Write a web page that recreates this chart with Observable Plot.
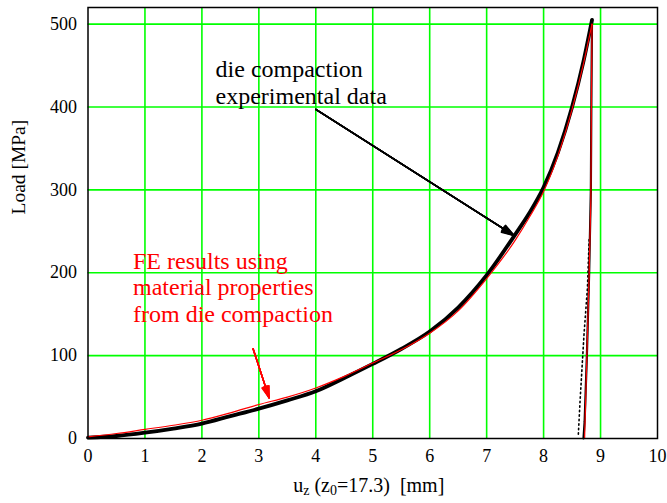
<!DOCTYPE html>
<html>
<head>
<meta charset="utf-8">
<script src="https://cdn.jsdelivr.net/npm/d3@7"></script>
<script src="https://cdn.jsdelivr.net/npm/@observablehq/plot@0.6"></script>
<style>
  html, body { margin: 0; padding: 0; background: #fff; }
  #chart { width: 667px; height: 503px; }
  #chart svg text { font-family: "Liberation Serif", "DejaVu Serif", serif !important; }
</style>
</head>
<body>
<div id="chart"></div>
<script>
// ---- data ----
const xTicks = [0, 1, 2, 3, 4, 5, 6, 7, 8, 9, 10];
const yTicks = [0, 100, 200, 300, 400, 500];
const gridX = [1, 2, 3, 4, 5, 6, 7, 8, 9];
const gridY = [100, 200, 300, 400, 500];

// experimental (die compaction) loading branch
const expLoadX = [0, 0.5, 1, 1.5, 2, 2.5, 3, 3.5, 4, 4.5, 5, 5.5, 6, 6.5, 7, 7.5, 7.75, 8, 8.25, 8.5, 8.7, 8.85];
const expLoadY = [1, 3, 7, 12, 18, 27, 36, 46, 57, 73, 90, 108, 129, 158, 197, 246, 272, 303, 345, 400, 455, 505];
// experimental unloading branch
const expUnloadX = [8.85, 8.84, 8.83, 8.80, 8.76, 8.72, 8.70];
const expUnloadY = [505, 420, 300, 200, 100, 20, 0];
// scattered trail of experimental unloading points
const expTrailX = [8.80, 8.77, 8.71, 8.64, 8.61];
const expTrailY = [240, 182, 126, 45, 5];

// FE results loading branch
const feLoadX = [0, 0.5, 1, 1.5, 2, 2.5, 3, 3.5, 4, 4.5, 5, 5.5, 6, 6.5, 7, 7.5, 7.75, 8, 8.25, 8.5, 8.7, 8.85];
const feLoadY = [2, 6, 11, 16, 22, 31, 41, 50, 61, 75, 91, 107, 127, 154, 193, 239, 267, 298, 341, 397, 452, 500];
// FE unloading branch
const feUnloadX = [8.85, 8.84, 8.83, 8.80, 8.76, 8.72];
const feUnloadY = [500, 410, 290, 200, 100, 0];

const expLabel = "die compaction\nexperimental data";
const feLabel = "FE results using\nmaterial properties\nfrom die compaction";
const xTitle = "uz (z0=17.3)  [mm]";
const yTitle = "Load [MPa]";
const headAngles = [6, 12, 18, 24, 30, 36];

// ---- tables ----
const zip = (xs, ys) => xs.map((x, i) => ({x, y: ys[i]}));
const expLoad = zip(expLoadX, expLoadY);
const expUnload = zip(expUnloadX, expUnloadY);
const expTrail = zip(expTrailX, expTrailY);
const feLoad = zip(feLoadX, feLoadY);
const feUnload = zip(feUnloadX, feUnloadY);

const serif = "Liberation Serif";

// arrow with a filled-looking head: several heads fanned out over one stem
const annotArrow = (x1, y1, x2, y2, color, w) =>
  headAngles.map(a => Plot.arrow([{}], {x1, y1, x2, y2, stroke: color, strokeWidth: w, headAngle: a, headLength: 13}));

const plot = Plot.plot({
  width: 667,
  height: 503,
  marginLeft: 87.5,
  marginRight: 10,
  marginTop: 7,
  marginBottom: 65,
  style: {fontFamily: serif, fontSize: "18px", background: "#fff", color: "#000"},
  x: {domain: [0, 10], ticks: xTicks, tickSize: 0, tickPadding: 11, label: null},
  y: {domain: [0, 520], ticks: yTicks, tickSize: 0, tickPadding: 11, label: null},
  marks: [
    Plot.ruleX(gridX, {stroke: "#00ff00", strokeWidth: 1.6}),
    Plot.ruleY(gridY, {stroke: "#00ff00", strokeWidth: 1.6}),
    Plot.line(expLoad, {x: "x", y: "y", stroke: "#000", strokeWidth: 3.8, curve: "monotone-x"}),
    Plot.line(expUnload, {x: "x", y: "y", stroke: "#000", strokeWidth: 2.2}),
    Plot.line(expTrail, {x: "x", y: "y", stroke: "#000", strokeWidth: 1.6, strokeDasharray: "1.5,3"}),
    Plot.line(feLoad, {x: "x", y: "y", stroke: "#ff0000", strokeWidth: 1.2, curve: "monotone-x"}),
    Plot.line(feUnload, {x: "x", y: "y", stroke: "#ff0000", strokeWidth: 1.2}),
    ...annotArrow(4.0, 397, 7.48, 245, "#000", 1.5),
    ...annotArrow(2.9, 108, 3.18, 49, "#ff0000", 1.4),
    Plot.text([expLabel], {x: 2.24, y: 430, text: d => d, textAnchor: "start", lineAnchor: "middle", lineHeight: 1.11, fontSize: 24, fontFamily: serif, fill: "#000"}),
    Plot.text([feLabel], {x: 0.79, y: 183, text: d => d, textAnchor: "start", lineAnchor: "middle", lineHeight: 1.11, fontSize: 24, fontFamily: serif, fill: "#ff0000"}),
    Plot.text([xTitle], {frameAnchor: "bottom", text: d => d, dx: -4, dy: 53.6, fontSize: 20, fontFamily: serif, fill: "#000"}),
    Plot.text([yTitle], {frameAnchor: "left", text: d => d, rotate: -90, dx: -69.5, dy: -8.5, fontSize: 19.5, fontFamily: serif, fill: "#000"}),
    Plot.frame({stroke: "#000", strokeWidth: 1.5})
  ]
});

document.getElementById("chart").appendChild(plot);

// subscripts in the x-axis title
d3.select(plot).selectAll("text").each(function() {
  if (this.textContent === xTitle) {
    const t = d3.select(this);
    const tgt = t.selectAll("tspan").empty() ? t : t.select("tspan");
    tgt.text(null);
    tgt.append("tspan").text("u");
    tgt.append("tspan").attr("font-size", "14px").attr("dy", "3").text("z");
    tgt.append("tspan").attr("dy", "-3").text(" (z");
    tgt.append("tspan").attr("font-size", "14px").attr("dy", "3").text("0");
    tgt.append("tspan").attr("dy", "-3").text("=17.3)\u00a0 [mm]");
  }
});
</script>
</body>
</html>
